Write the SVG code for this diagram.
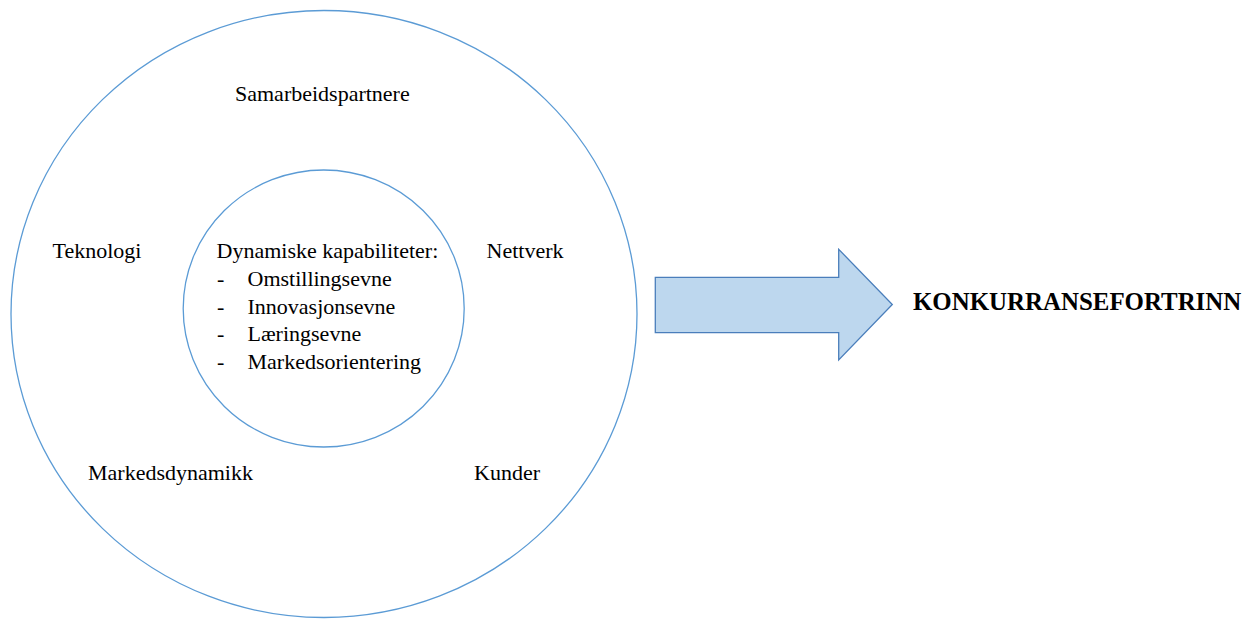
<svg xmlns="http://www.w3.org/2000/svg" width="1256" height="619" viewBox="0 0 1256 619">
<style>
.t{font-family:"Liberation Serif","Times New Roman",serif;font-size:22px;fill:#000}
.b{font-family:"Liberation Serif","Times New Roman",serif;font-size:24.9px;font-weight:bold;fill:#000}
.ring{fill:none;stroke:#5B9BD5;stroke-width:1.3}
.arrow{fill:#BDD7EE;stroke:#4A7EBB;stroke-width:1.3}
</style>
<rect width="1256" height="619" fill="#fff"/>
<g id="outer">
<ellipse class="ring" cx="324" cy="314" rx="313" ry="303.5"/>
<text class="t" x="235" y="101">Samarbeidspartnere</text>
<text class="t" x="52.5" y="258.3">Teknologi</text>
<text class="t" x="486.5" y="258.3">Nettverk</text>
<text class="t" x="88" y="480.3">Markedsdynamikk</text>
<text class="t" x="474" y="480.3">Kunder</text>
</g>
<g id="inner">
<ellipse class="ring" cx="323.7" cy="308.5" rx="140.5" ry="138.5"/>
<text class="t" x="216.5" y="258.3">Dynamiske kapabiliteter:</text>
<text class="t" x="217" y="285.8">-</text><text class="t" x="247.5" y="285.8">Omstillingsevne</text>
<text class="t" x="217" y="313.5">-</text><text class="t" x="247.5" y="313.5">Innovasjonsevne</text>
<text class="t" x="217" y="341">-</text><text class="t" x="247.5" y="341">Læringsevne</text>
<text class="t" x="217" y="368.5">-</text><text class="t" x="247.5" y="368.5">Markedsorientering</text>
</g>
<g id="connectors">
<polygon class="arrow" points="655.3,277.3 838.7,277.3 838.7,249.3 892.3,304.5 838.7,360 838.7,332.7 655.3,332.7"/>
</g>
<g id="result">
<text class="b" x="913" y="310">KONKURRANSEFORTRINN</text>
</g>
</svg>
